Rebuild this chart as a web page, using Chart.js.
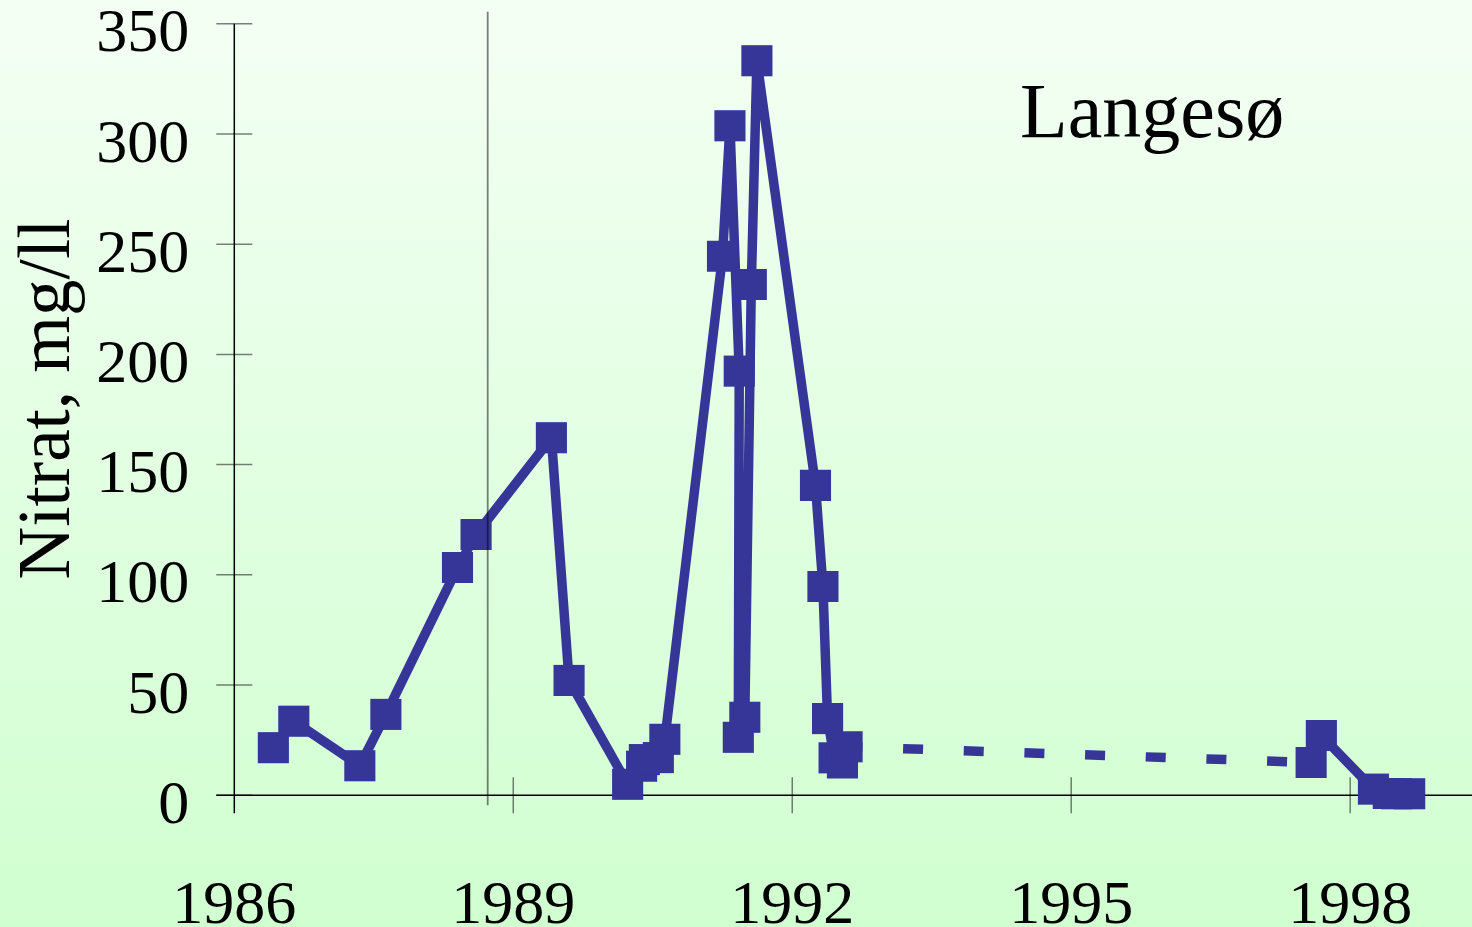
<!DOCTYPE html>
<html>
<head>
<meta charset="utf-8">
<script src="https://cdn.jsdelivr.net/npm/chart.js@4.4.1/dist/chart.umd.min.js"></script>
<style>
  html, body { margin: 0; padding: 0; background: #e6ffe6; }
</style>
</head>
<body>
<canvas id="nitratChart" width="1472" height="927"></canvas>
<script>
// sampling dates (decimal year) and nitrate, mg/l
const sampleYears = [
  1986.42, 1986.64, 1987.35, 1987.63, 1988.40, 1988.60, 1989.41, 1989.60,
  1990.23, 1990.38, 1990.41, 1990.56, 1990.63,
  1991.25, 1991.33, 1991.43, 1991.42, 1991.49, 1991.56, 1991.62,
  1992.25, 1992.33, 1992.38, 1992.45, 1992.54, 1992.59,
  1997.58, 1997.69, 1998.25, 1998.41, 1998.50, 1998.64
];
const nitratValues = [
  21.6, 33.6, 13.4, 36.7, 103.3, 118.3, 162.2, 52.1,
  5.0, 13.2, 16.2, 17.1, 25.4,
  244.5, 303.7, 192.4, 26.3, 35.4, 231.7, 333.2,
  140.6, 94.7, 34.8, 17.0, 14.7, 22.0,
  14.9, 27.1, 2.8, 0.8, 0.7, 0.7
];
const xTickYears = [1986, 1989, 1992, 1995, 1998];
const yTickValues = [0, 50, 100, 150, 200, 250, 300, 350];
const xAxisMin = 1986;
const xAxisMax = 1999.31;
const markerYear = 1988.725;   // thin vertical line
const lakeName = 'Langesø';
const yAxisLabel = 'Nitrat, mg/ll';

const ink = '#363699';
const serif = '"Liberation Serif", "Times New Roman", serif';

const background = {
  id: 'background',
  beforeDraw(chart) {
    const { ctx, width, height } = chart;
    const g = ctx.createLinearGradient(0, 0, 0, height);
    g.addColorStop(0, '#f4fff4');
    g.addColorStop(1, '#d0ffd0');
    ctx.save();
    ctx.fillStyle = g;
    ctx.fillRect(0, 0, width, height);
    ctx.restore();
  }
};

// axes with ticks crossing the axis lines, labels drawn here too
const crossAxes = {
  id: 'crossAxes',
  beforeDatasetsDraw(chart) {
    const { ctx, chartArea: a, scales: { x, y } } = chart;
    const t = 18;
    ctx.save();
    ctx.lineWidth = 1.5;
    ctx.strokeStyle = 'rgba(0,0,0,0.5)';
    ctx.beginPath();
    y.ticks.forEach(tk => {
      const py = y.getPixelForValue(tk.value);
      ctx.moveTo(a.left - t, py);
      ctx.lineTo(a.left + t, py);
    });
    x.ticks.forEach(tk => {
      if (tk.value === xAxisMin) return;
      const px = x.getPixelForValue(tk.value);
      ctx.moveTo(px, a.bottom - t);
      ctx.lineTo(px, a.bottom + t);
    });
    ctx.stroke();
    ctx.strokeStyle = '#000';
    ctx.beginPath();
    ctx.moveTo(a.left, a.top);
    ctx.lineTo(a.left, a.bottom + t);
    ctx.moveTo(a.left - t, a.bottom);
    ctx.lineTo(a.right, a.bottom);
    ctx.stroke();

    ctx.fillStyle = '#000';
    ctx.font = '62px ' + serif;
    ctx.textBaseline = 'alphabetic';
    ctx.textAlign = 'right';
    y.ticks.forEach(tk => {
      ctx.fillText(String(tk.value), a.left - 45, y.getPixelForValue(tk.value) + 27.6);
    });
    ctx.textAlign = 'center';
    x.ticks.forEach(tk => {
      ctx.fillText(String(tk.value), x.getPixelForValue(tk.value), 922.7);
    });
    ctx.restore();
  },
  afterDatasetsDraw(chart) {
    const { ctx, chartArea: a, scales: { x } } = chart;
    const px = x.getPixelForValue(markerYear);
    ctx.save();
    ctx.strokeStyle = 'rgba(0,0,0,0.5)';
    ctx.lineWidth = 1.8;
    ctx.beginPath();
    ctx.moveTo(px, a.top - 12);
    ctx.lineTo(px, a.bottom + 10);
    ctx.stroke();
    ctx.restore();
  },
  afterDraw(chart) {
    const { ctx } = chart;
    ctx.save();
    ctx.fillStyle = '#000';
    ctx.textBaseline = 'alphabetic';
    ctx.textAlign = 'left';
    ctx.font = '78px ' + serif;
    ctx.fillText(lakeName, 1020, 137);
    ctx.translate(69, 399);
    ctx.rotate(-Math.PI / 2);
    ctx.textAlign = 'center';
    ctx.font = '73px ' + serif;
    ctx.fillText(yAxisLabel, 0, 0);
    ctx.restore();
  }
};

new Chart(document.getElementById('nitratChart'), {
  type: 'line',
  data: {
    datasets: [{
      data: sampleYears.map((yr, i) => ({ x: yr, y: nitratValues[i] })),
      borderColor: ink,
      backgroundColor: ink,
      borderWidth: 9.5,
      borderJoinStyle: 'bevel',
      pointStyle: 'rect',
      pointRadius: 22,
      pointHoverRadius: 22,
      pointBorderWidth: 0,
      tension: 0,
      clip: false,
      segment: {
        // long gap between campaigns is drawn dashed
        borderDash: c => (c.p1.parsed.x - c.p0.parsed.x > 2 ? [20, 40.7] : undefined),
        borderDashOffset: c => (c.p1.parsed.x - c.p0.parsed.x > 2 ? 4.7 : undefined)
      }
    }]
  },
  options: {
    responsive: false,
    animation: false,
    devicePixelRatio: 1,
    events: [],
    layout: { autoPadding: false, padding: { top: 23.7, right: 0, left: 0, bottom: 0 } },
    plugins: {
      legend: { display: false },
      tooltip: { enabled: false },
      title: { display: false }
    },
    scales: {
      x: {
        type: 'linear',
        min: xAxisMin,
        max: xAxisMax,
        afterBuildTicks: s => { s.ticks = xTickYears.map(v => ({ value: v })); },
        afterFit: s => { s.height = 131.7; },
        border: { display: false },
        grid: { display: false, drawTicks: false },
        ticks: { display: false }
      },
      y: {
        min: 0,
        max: 350,
        afterBuildTicks: s => { s.ticks = yTickValues.map(v => ({ value: v })); },
        afterFit: s => { s.width = 234.3; },
        border: { display: false },
        grid: { display: false, drawTicks: false },
        ticks: { display: false }
      }
    }
  },
  plugins: [background, crossAxes]
});
</script>
</body>
</html>
